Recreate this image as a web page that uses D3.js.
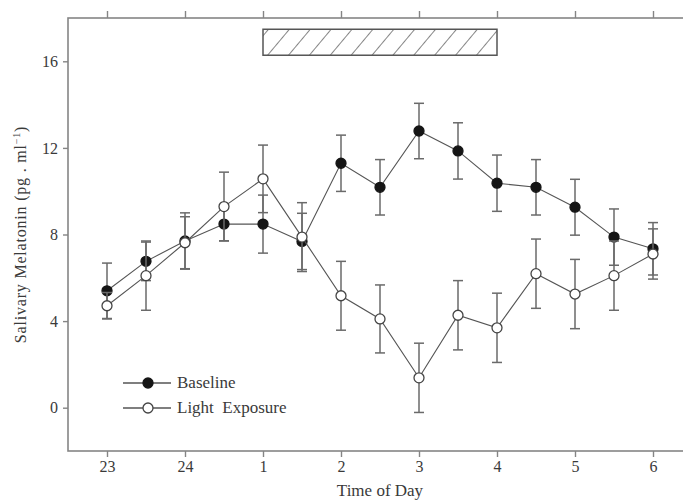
<!DOCTYPE html>
<html>
<head>
<meta charset="utf-8">
<script src="https://cdn.jsdelivr.net/npm/d3@7"></script>
<style>
  body { margin: 0; background: #fff; }
  svg { display: block; }
</style>
</head>
<body>
<svg width="683" height="500"></svg>
<script>
// time position on axis: 0 = 23h, 1 = 24h, 2 = 1h ... 7 = 6h
const timePos = [0, 0.5, 1, 1.5, 2, 2.5, 3, 3.5, 4, 4.5, 5, 5.5, 6, 6.5, 7]
const tickPos = [0, 1, 2, 3, 4, 5, 6, 7]
const tickLabels = ["23", "24", "1", "2", "3", "4", "5", "6"]
const yTicks = [0, 4, 8, 12, 16]

const baseline    = [5.4, 6.76, 7.7, 8.48, 8.48, 7.68, 11.29, 10.18, 12.78, 11.86, 10.37, 10.18, 9.26, 7.88, 7.34]
const baselineErr = [1.28, 0.89, 1.3, 0.77, 1.34, 1.3, 1.3, 1.28, 1.28, 1.3, 1.3, 1.28, 1.29, 1.3, 1.21]
const light       = [4.71, 6.1, 7.62, 9.29, 10.57, 7.88, 5.17, 4.1, 1.38, 4.27, 3.69, 6.19, 5.25, 6.1, 7.1]
const lightErr    = [0.61, 1.6, 1.2, 1.59, 1.56, 1.59, 1.59, 1.57, 1.6, 1.6, 1.6, 1.6, 1.6, 1.6, 1.16]

// light exposure period (hatched bar)
const exposureStart = 2
const exposureEnd = 5
const exposureBar = [16.28, 17.48]

const svg = d3.select('svg')
const margin = { top: 18, left: 68, bottom: 451, right: 692 }

const xScale = d3.scaleLinear().domain([-0.5, 7.5]).range([margin.left, margin.right])
const yScale = d3.scaleLinear().domain([-2, 18]).range([margin.bottom, margin.top])

const font = 'Liberation Serif, Times New Roman, serif'
const frameCol = '#858585'
const textCol = '#3a3a3a'

// hatch pattern
const defs = svg.append('defs')
const pat = defs.append('pattern')
    .attr('id', 'hatch')
    .attr('patternUnits', 'userSpaceOnUse')
    .attr('width', 16)
    .attr('height', 16)
    .attr('patternTransform', 'rotate(40)')
pat.append('rect').attr('width', 16).attr('height', 16).attr('fill', '#fff')
pat.append('line')
    .attr('x1', 0).attr('y1', 0).attr('x2', 0).attr('y2', 16)
    .attr('stroke', '#444').attr('stroke-width', 1.3)

// frame
svg.append('rect')
    .attr('x', margin.left)
    .attr('y', margin.top)
    .attr('width', margin.right - margin.left)
    .attr('height', margin.bottom - margin.top)
    .attr('fill', 'none')
    .attr('stroke', frameCol)
    .attr('stroke-width', 1.6)

let styleAxis = (g) => {
    g.select('.domain').remove()
    g.selectAll('.tick line').attr('stroke', frameCol).attr('stroke-width', 1.4)
    g.selectAll('.tick text')
        .attr('fill', textCol)
        .style('font-family', font)
        .style('font-size', '16px')
}

const xAxis = d3.axisBottom(xScale)
    .tickValues(tickPos)
    .tickFormat((d, i) => tickLabels[i])
    .tickSize(6)
    .tickPadding(4)

svg.append('g')
    .attr('transform', 'translate(0,' + margin.bottom + ')')
    .call(xAxis)
    .call(styleAxis)

svg.append('g')
    .attr('transform', 'translate(0,' + margin.top + ')')
    .call(d3.axisTop(xScale).tickValues(tickPos).tickFormat('').tickSize(7))
    .call(styleAxis)

svg.append('g')
    .attr('transform', 'translate(' + margin.left + ',0)')
    .call(d3.axisLeft(yScale).tickValues(yTicks).tickSize(5).tickPadding(5))
    .call(styleAxis)

// axis titles
svg.append('text')
    .attr('x', xScale(3.5))
    .attr('y', 496)
    .attr('text-anchor', 'middle')
    .attr('fill', textCol)
    .style('font-family', font)
    .style('font-size', '17px')
    .text('Time of Day')

const yTitle = svg.append('text')
    .attr('transform', 'translate(26,' + ((margin.top + margin.bottom) / 2) + ') rotate(-90)')
    .attr('text-anchor', 'middle')
    .attr('fill', textCol)
    .style('font-family', font)
    .style('font-size', '16px')
    .style('letter-spacing', '0.8px')
yTitle.append('tspan').text('Salivary Melatonin (pg . ml')
yTitle.append('tspan').attr('dy', -6).style('font-size', '10px').text('\u22121')
yTitle.append('tspan').attr('dy', 6).text(')')

// hatched bar for the light exposure period
svg.append('rect')
    .attr('x', xScale(exposureStart))
    .attr('y', yScale(exposureBar[1]))
    .attr('width', xScale(exposureEnd) - xScale(exposureStart))
    .attr('height', yScale(exposureBar[0]) - yScale(exposureBar[1]))
    .attr('fill', 'url(#hatch)')
    .attr('stroke', '#555')
    .attr('stroke-width', 1.5)

let drawSeries = (values, errs, filled) => {
    let data = values.map((v, i) => ({ x: timePos[i], y: v, e: errs[i] }))
    let g = svg.append('g')

    // error bars
    let eb = g.selectAll('.err').data(data).enter().append('g')
    eb.append('line')
        .attr('x1', d => xScale(d.x)).attr('x2', d => xScale(d.x))
        .attr('y1', d => yScale(d.y + d.e)).attr('y2', d => yScale(d.y - d.e))
        .attr('stroke', '#6a6a6a').attr('stroke-width', 1.5)
    eb.append('line')
        .attr('x1', d => xScale(d.x) - 5).attr('x2', d => xScale(d.x) + 5)
        .attr('y1', d => yScale(d.y + d.e)).attr('y2', d => yScale(d.y + d.e))
        .attr('stroke', '#6a6a6a').attr('stroke-width', 1.5)
    eb.append('line')
        .attr('x1', d => xScale(d.x) - 5).attr('x2', d => xScale(d.x) + 5)
        .attr('y1', d => yScale(d.y - d.e)).attr('y2', d => yScale(d.y - d.e))
        .attr('stroke', '#6a6a6a').attr('stroke-width', 1.5)

    g.append('path')
        .datum(data)
        .attr('d', d3.line().x(d => xScale(d.x)).y(d => yScale(d.y)))
        .attr('fill', 'none')
        .attr('stroke', '#555')
        .attr('stroke-width', 1.1)

    g.selectAll('circle').data(data).enter().append('circle')
        .attr('cx', d => xScale(d.x))
        .attr('cy', d => yScale(d.y))
        .attr('r', 5)
        .attr('fill', filled ? '#151515' : '#fff')
        .attr('stroke', filled ? '#151515' : '#444')
        .attr('stroke-width', 1.3)
}

drawSeries(baseline, baselineErr, true)
drawSeries(light, lightErr, false)

// legend
const legendItems = [
    { label: 'Baseline', filled: true, y: 383 },
    { label: 'Light  Exposure', filled: false, y: 408 }
]
const legend = svg.append('g')
legendItems.forEach((it) => {
    legend.append('line')
        .attr('x1', 123).attr('x2', 171)
        .attr('y1', it.y).attr('y2', it.y)
        .attr('stroke', '#555').attr('stroke-width', 1.3)
    legend.append('circle')
        .attr('cx', 148).attr('cy', it.y).attr('r', 5)
        .attr('fill', it.filled ? '#151515' : '#fff')
        .attr('stroke', it.filled ? '#151515' : '#444')
        .attr('stroke-width', 1.3)
    legend.append('text')
        .attr('x', 177).attr('y', it.y + 5)
        .attr('fill', textCol)
        .style('font-family', font)
        .style('font-size', '17px')
        .style('white-space', 'pre')
        .text(it.label)
})
</script>
</body>
</html>
